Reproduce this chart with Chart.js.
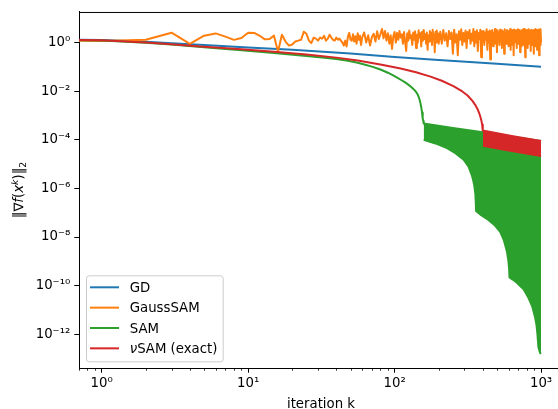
<!DOCTYPE html>
<html><head><meta charset="utf-8">
<script src="https://cdn.jsdelivr.net/npm/chart.js@4.4.0/dist/chart.umd.min.js"></script>
<style>html,body{margin:0;padding:0;overflow:hidden;background:#fff;width:558px;height:409px}canvas{display:block}</style>
</head><body>
<canvas id="c" width="563" height="409"></canvas>
<script>
// ---- data ----
const seriesNames = ['GD', 'GaussSAM', 'SAM', 'νSAM (exact)'];
const seriesColors = ['#1f77b4', '#ff7f0e', '#2ca02c', '#d62728'];

const xTickVals = [1, 10, 100, 1000];
const xTickLabels = ['10⁰', '10¹', '10²', '10³'];
const yTickVals = [1, 1e-2, 1e-4, 1e-6, 1e-8, 1e-10, 1e-12];
const yTickLabels = ['10⁰', '10⁻²', '10⁻⁴', '10⁻⁶', '10⁻⁸', '10⁻¹⁰', '10⁻¹²'];

// GD
const gdK = [0, 1, 2, 3, 5, 10, 20, 50, 100, 200, 500, 1000];
const gdV = [1.318, 1.288, 1.072, 0.933, 0.794, 0.631, 0.501, 0.355, 0.257, 0.191, 0.135, 0.1];

// GaussSAM (noisy) — iteration index grid and values
const gaussK = [0];
for (let k = 1; k <= 60; k++) gaussK.push(k);
for (let k = 62; k <= 200; k += 2) gaussK.push(k);
for (let k = 205; k <= 1000; k += 5) gaussK.push(k);
const gaussV = [1.2,
  1.17, 1.3, 2.55, 0.88, 1.92, 2.38, 1.75, 1.29, 1.55, 2.55,
  2.5, 1.9, 1.36, 1.4, 1.92, 0.42, 2.1, 1.1, 0.75, 0.83,
  1.1, 1.2, 1.3, 2.8, 2.3, 1.2, 0.95, 1.6, 1.45, 1.2,
  1.6, 1.45, 1.9, 1.2, 1.45, 2.1, 1.6, 1.3, 1.2, 1.6,
  1.3, 1.45, 1.2, 1.0, 0.76, 1.2, 0.69, 1.75, 2.5, 1.3,
  1.2, 2.2, 1.1, 1.8, 0.9, 2.4, 1.3, 1.9, 0.8, 1.6,
  2.6, 1.0, 2.0, 0.75, 1.7, 2.3, 1.1, 2.9, 1.4, 2.2,
  3.6, 1.5, 3.0, 1.2, 2.4, 0.9, 2.0, 0.55, 1.8, 2.7,
  1.0, 2.5, 1.3, 3.0, 1.6, 2.2, 0.9, 2.7, 1.1, 0.45,
  2.4, 1.2, 3.1, 1.5, 2.0, 0.8, 2.6, 1.3, 2.9, 0.6,
  2.1, 1.0, 3.2, 1.6, 2.4, 0.7, 2.8, 1.2, 3.3, 1.4,
  2.2, 0.9, 2.6, 0.5, 2.0, 1.1, 3.0, 1.5, 2.5, 0.8,
  3.4, 1.3, 2.1, 0.4, 2.7, 1.0, 3.1, 1.7, 2.3, 0.9,
  2.8, 0.9, 3.3, 1.2, 2.4, 0.7, 3.0, 1.4, 2.6, 0.35,
  3.4, 1.0, 2.2, 0.3, 2.9, 1.3, 3.5, 0.8, 2.5, 1.1,
  3.1, 0.6, 2.7, 1.5, 3.3, 0.9, 2.3, 1.2, 3.6, 0.7,
  2.8, 1.0, 3.2, 0.45, 2.5, 1.4, 3.4, 0.25, 2.9, 1.1,
  3.0, 0.8, 2.6, 1.3, 3.5, 0.5, 2.7, 1.0, 3.1, 0.2,
  2.9, 1.2, 3.3, 0.7, 2.4, 1.5, 3.6, 0.9, 2.8, 0.4,
  3.2, 1.1, 2.6, 0.8, 3.4, 1.3, 2.9, 0.6, 3.1, 1.0,
  2.7, 0.35, 3.5, 1.2, 2.5, 0.9, 3.3, 1.4, 2.8, 0.7,
  3.0, 1.1, 3.6, 0.5, 2.6, 1.3, 3.2, 0.8, 2.9, 0.3,
  3.4, 1.0, 2.7, 1.5, 3.1, 0.6, 2.8, 1.2, 3.5, 0.9,
  2.6, 1.3, 3.3, 0.4, 2.9, 1.1, 3.0, 0.7, 3.4, 1.4,
  2.5, 0.8, 3.6, 1.2, 2.8, 0.25, 3.2, 1.0, 2.7, 1.5,
  3.3, 0.6, 2.9, 1.3, 3.5, 0.9, 2.6, 1.1, 3.1, 0.45,
  2.8, 1.2, 3.4, 0.8, 3.0, 1.4, 2.7, 0.35, 3.3, 1.0,
  2.9, 1.3, 3.6, 0.7, 2.5, 1.1, 3.2, 0.5, 2.8, 1.2,
  3.4, 0.9, 3.0, 0.3, 2.7, 1.4, 3.5, 0.8, 3.1, 1.0];

// SAM: main curve (single line, then upper edge of oscillation) and lower edge of oscillation
const samK = [0, 1, 2, 3, 5, 9, 15, 25, 32, 40, 48, 56, 63, 70, 80, 90, 97, 104, 111, 118, 124, 130, 136, 140, 143, 146, 148, 150, 152, 154, 155, 156, 157, 158, 250, 400, 630, 1000];
const samV = [1.230, 1.202, 0.977, 0.832, 0.646, 0.479, 0.372, 0.282, 0.245, 0.209, 0.178, 0.148, 0.123, 0.102, 0.0776, 0.0575, 0.0457, 0.0363, 0.0288, 0.0229, 0.0186, 0.0148, 0.0115, 9.33e-3, 7.76e-3, 5.89e-3, 4.57e-3, 3.31e-3, 2.19e-3, 1.32e-3, 1.0e-3, 7.59e-4, 5.89e-4, 4.68e-4, 3.09e-4, 2.04e-4, 1.35e-4, 8.91e-5];
const samLowK = [158, 190, 228, 260, 296, 320, 338, 345, 350, 353, 356, 358, 360, 390, 427, 480, 526, 555, 569, 585, 599, 605, 609, 640, 684, 760, 820, 870, 910, 930, 944, 959, 985, 1000];
const samLowV = [1.0e-4, 7.08e-5, 4.57e-5, 2.82e-5, 1.51e-5, 7.94e-6, 3.24e-6, 2.0e-6, 1.32e-6, 8.91e-7, 5.62e-7, 3.16e-7, 1.17e-7, 7.94e-8, 5.62e-8, 3.16e-8, 1.62e-8, 7.94e-9, 4.68e-9, 2.51e-9, 1.0e-9, 5.01e-10, 2.19e-10, 1.78e-10, 1.32e-10, 7.08e-11, 3.16e-11, 1.41e-11, 5.01e-12, 2.51e-12, 1.05e-12, 3.02e-13, 1.70e-13, 1.58e-13];

// nuSAM (exact)
const nuK = [0, 1, 2, 3, 5, 9, 15, 25, 40, 56, 80, 110, 140, 176, 210, 252, 290, 315, 340, 355, 368, 378, 386, 392, 396, 399, 401, 630, 1000];
const nuV = [1.259, 1.230, 1.0, 0.851, 0.676, 0.525, 0.417, 0.324, 0.240, 0.182, 0.126, 0.0851, 0.0603, 0.0398, 0.0269, 0.0162, 9.77e-3, 6.61e-3, 3.98e-3, 2.75e-3, 1.86e-3, 1.26e-3, 8.51e-4, 5.89e-4, 4.27e-4, 3.24e-4, 2.40e-4, 1.45e-4, 8.91e-5];
const nuLowK = [401, 630, 1000];
const nuLowV = [5.62e-5, 3.47e-5, 2.14e-5];

// ---- chart ----
const pts = (ks, vs) => ks.map((k, i) => ({x: k, y: vs[i]}));
const FONT = 'DejaVu Sans';
const FS = 13.3;
const line = (label, data, color, order, extra) => Object.assign({
  label, data, borderColor: color, backgroundColor: color, borderWidth: 2,
  pointRadius: 0, tension: 0, fill: false, order, borderJoinStyle: 'round'
}, extra || {});

const decor = {
  id: 'decor',
  afterDraw(chart) {
    const {ctx, chartArea: a, scales: {x}} = chart;
    ctx.save();
    ctx.strokeStyle = '#000';
    ctx.lineWidth = 1;
    ctx.beginPath();
    ctx.moveTo(a.left, a.top + 0.5); ctx.lineTo(a.right, a.top + 0.5);
    ctx.moveTo(a.right - 0.5, a.top); ctx.lineTo(a.right - 0.5, a.bottom);
    ctx.stroke();
    // minor ticks on x
    ctx.lineWidth = 0.8;
    ctx.beginPath();
    for (let d = -1; d <= 3; d++) {
      for (let m = 2; m <= 9; m++) {
        const v = m * Math.pow(10, d);
        if (v < x.min || v > x.max) continue;
        const px = Math.round(x.getPixelForValue(v)) + 0.5;
        ctx.moveTo(px, a.bottom); ctx.lineTo(px, a.bottom + 2.7);
      }
    }
    ctx.stroke();
    // x label
    ctx.fillStyle = '#000';
    ctx.font = FS + 'px "' + FONT + '"';
    ctx.textAlign = 'center';
    ctx.textBaseline = 'alphabetic';
    ctx.fillText('iteration k', (a.left + a.right) / 2, 407.5);
    // y label with math-like pieces
    const normal = FS + 'px "' + FONT + '"';
    const ital = 'italic ' + FS + 'px "' + FONT + '"';
    const smallI = 'italic 9.3px "' + FONT + '"';
    const small = '9.3px "' + FONT + '"';
    const parts = [['‖∇', normal, 0], ['f', ital, 0], ['(', normal, 0], ['x', ital, 0], ['k', smallI, -5], [')‖', normal, 0], ['2', small, 3]];
    let w = 0;
    parts.forEach(p => { ctx.font = p[1]; w += ctx.measureText(p[0]).width; });
    ctx.save();
    ctx.translate(22.5, (a.top + a.bottom) / 2);
    ctx.rotate(-Math.PI / 2);
    ctx.textAlign = 'left';
    let cx = -w / 2;
    parts.forEach(p => { ctx.font = p[1]; ctx.fillText(p[0], cx, p[2]); cx += ctx.measureText(p[0]).width; });
    ctx.restore();
    // legend
    const lx = 86, ly = 275.3, lw = 136.7, lh = 86;
    ctx.beginPath();
    ctx.roundRect(lx + 0.5, ly + 0.5, lw, lh, 2.7);
    ctx.fillStyle = 'rgba(255,255,255,0.8)';
    ctx.fill();
    ctx.strokeStyle = '#cccccc';
    ctx.lineWidth = 1;
    ctx.stroke();
    seriesNames.forEach((name, i) => {
      const ry = 287.3 + i * 20.35;
      ctx.strokeStyle = seriesColors[i];
      ctx.lineWidth = 2;
      ctx.beginPath(); ctx.moveTo(90, ry); ctx.lineTo(119, ry); ctx.stroke();
      ctx.fillStyle = '#000';
      ctx.textAlign = 'left';
      let tx = 129.7;
      if (name.startsWith('ν')) {
        ctx.font = ital; ctx.fillText('ν', tx, ry + 4.6); tx += ctx.measureText('ν').width;
        ctx.font = normal; ctx.fillText(name.slice(1), tx, ry + 4.6);
      } else {
        ctx.font = normal; ctx.fillText(name, tx, ry + 4.6);
      }
    });
    ctx.restore();
  }
};

new Chart(document.getElementById('c'), {
  type: 'line',
  data: {
    datasets: [
      line(seriesNames[0], pts(gdK, gdV), seriesColors[0], 4),
      line(seriesNames[1], pts(gaussK, gaussV), seriesColors[1], 3),
      line(seriesNames[2], pts(samK, samV), seriesColors[2], 2),
      line(seriesNames[2] + ' low', pts(samLowK, samLowV), seriesColors[2], 2, {fill: 2}),
      line(seriesNames[3], pts(nuK, nuV), seriesColors[3], 1),
      line(seriesNames[3] + ' low', pts(nuLowK, nuLowV), seriesColors[3], 1, {fill: 4})
    ]
  },
  options: {
    responsive: false,
    animation: false,
    layout: {padding: {top: 7, left: 0, right: 0, bottom: 0}},
    plugins: {legend: {display: false}, tooltip: {enabled: false}, title: {display: false}},
    scales: {
      x: {
        type: 'logarithmic', position: 'bottom', min: 0.72, max: 1412,
        afterBuildTicks: s => { s.ticks = xTickVals.map(v => ({value: v, major: true})); },
        afterFit: s => { s.height = 41; },
        ticks: {autoSkip: false, maxRotation: 0, minRotation: 0, padding: 3, color: '#000',
          font: {family: FONT, size: FS}, callback: (v, i) => xTickLabels[i]},
        grid: {drawOnChartArea: false, drawTicks: true, tickLength: 4.7, tickColor: '#000', tickWidth: 1, color: '#000'},
        border: {display: true, color: '#000', width: 1}
      },
      y: {
        type: 'logarithmic', position: 'left', min: 4.1e-14, max: 18.1,
        afterBuildTicks: s => { s.ticks = yTickVals.map(v => ({value: v, major: true})); },
        afterFit: s => { s.width = 79; },
        ticks: {autoSkip: false, padding: 4, color: '#000',
          font: {family: FONT, size: FS}, callback: (v, i) => yTickLabels[i]},
        grid: {drawOnChartArea: false, drawTicks: true, tickLength: 4.7, tickColor: '#000', tickWidth: 1, color: '#000'},
        border: {display: true, color: '#000', width: 1}
      }
    }
  },
  plugins: [decor]
});
</script>
</body></html>
